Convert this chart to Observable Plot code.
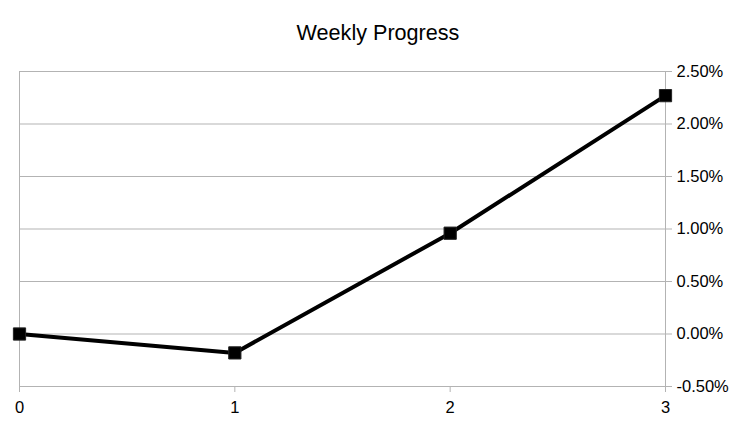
<!DOCTYPE html>
<html>
<head>
<meta charset="utf-8">
<script src="https://cdn.jsdelivr.net/npm/d3@7"></script>
<script src="https://cdn.jsdelivr.net/npm/@observablehq/plot@0.6"></script>
<style>
  body { margin: 0; background: #ffffff; }
  #title {
    height: 50px;
    box-sizing: border-box;
    padding-top: 21px;
    font: 21.6px "Liberation Sans", Arial, sans-serif;
    line-height: 24px;
    text-align: center;
    color: #000000;
    width: 756px;
  }
</style>
</head>
<body>
<div id="title">Weekly Progress</div>
<div id="chart"></div>
<script>
// values
const weeks = [0, 1, 2, 3]
const progress = [0, -0.0018, 0.0096, 0.0227]
const yTicks = [-0.005, 0, 0.005, 0.01, 0.015, 0.02, 0.025]

const data = weeks.map((w, i) => ({week: w, value: progress[i]}))

const pct = d => d3.format(".2%")(d).replace("\u2212", "-")
const grey = '#b3b3b3'

let chart = Plot.plot({
  width: 756,
  height: 376,
  marginLeft: 19,
  marginRight: 91,
  marginTop: 21,
  marginBottom: 40,
  x: {domain: [0, 3]},
  y: {domain: [-0.005, 0.025]},
  marks: [
    Plot.gridY(yTicks, {stroke: grey, strokeOpacity: 1}),
    Plot.ruleX([0, 3], {stroke: grey}),
    Plot.axisY(yTicks, {
      anchor: 'right',
      tickFormat: pct,
      tickSize: 6,
      tickPadding: 5,
      stroke: grey,
      fill: '#000000',
      fontSize: 16.5,
      label: null,
    }),
    Plot.axisX(weeks, {
      anchor: 'bottom',
      tickFormat: d => String(d),
      tickSize: 6,
      tickPadding: 9,
      stroke: grey,
      fill: '#000000',
      fontSize: 16.5,
      label: null,
    }),
    Plot.line(data, {x: 'week', y: 'value', stroke: '#000000', strokeWidth: 4}),
    Plot.dot(data, {
      x: 'week',
      y: 'value',
      symbol: 'square',
      r: 6.9,
      fill: '#000000',
      stroke: '#222222',
      strokeWidth: 1,
    }),
  ],
  style: {
    background: '#ffffff',
    color: '#000000',
    fontFamily: '"Liberation Sans", Arial, sans-serif',
    fontSize: 16.5,
    overflow: 'visible',
  }
})
d3.select('#chart').append(() => chart)
</script>
</body>
</html>
